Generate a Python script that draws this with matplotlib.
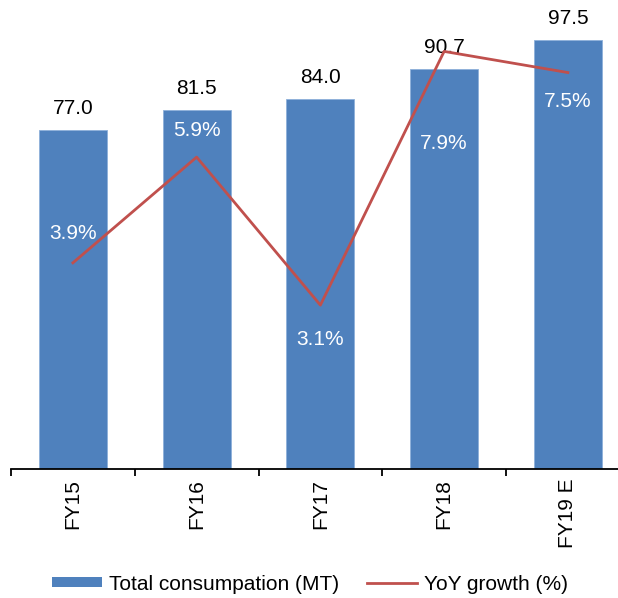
import matplotlib
matplotlib.use("Agg")
import matplotlib.pyplot as plt
from matplotlib.patches import Patch
from matplotlib.lines import Line2D
import numpy as np

plt.rcParams['font.family'] = ['Liberation Sans', 'DejaVu Sans']

# Data
categories = ["FY15", "FY16", "FY17", "FY18", "FY19 E"]
consumption = [77.0, 81.5, 84.0, 90.7, 97.5]      # Total consumption (MT)
yoy_growth = [3.9, 5.9, 3.1, 7.9, 7.5]            # YoY growth (%)

# Vertical offset (points) of each growth label from its line point
growth_label_offsets = [-21, -19, 25, 66, 21]

BAR_COLOR = "#4F81BD"
LINE_COLOR = "#C0504D"
FS = 15

fig = plt.figure(figsize=(6.18, 5.98), dpi=100)
ax = fig.add_axes([11 / 618, 1 - 469 / 598, 618.75 / 618, 528.6 / 598])
ax2 = ax.twinx()

x = np.arange(len(categories))
bars = ax.bar(x, consumption, width=0.55, color=BAR_COLOR,
              edgecolor="#8DB0DA", linewidth=0.6, zorder=2)
ax.set_xlim(-0.5, len(categories) - 0.5)
ax.set_ylim(0, 120)
ax2.set_ylim(0, 10)

ax2.plot(x, yoy_growth, color=LINE_COLOR, linewidth=2.0, zorder=3)

# Bar value labels
for xi, v in zip(x, consumption):
    ax.annotate(f"{v:.1f}", (xi, v), xytext=(0, 11.5), textcoords="offset points",
                ha="center", va="baseline", fontsize=FS, color="black",
                annotation_clip=False)

# Growth labels inside the bars
for xi, g, off in zip(x, yoy_growth, growth_label_offsets):
    ax2.annotate(f"{g:.1f}%", (xi, g), xytext=(0, -off), textcoords="offset points",
                 ha="center", va="center", fontsize=FS, color="white",
                 annotation_clip=False, zorder=4)

# Axes styling
for a in (ax, ax2):
    for s in ("top", "right", "left"):
        a.spines[s].set_visible(False)
    a.set_yticks([])
ax2.spines["bottom"].set_visible(False)
ax.spines["bottom"].set_linewidth(1.3)
ax.spines["bottom"].set_color("black")

# Category ticks sit between the bars; labels are centered under the bars
ax.set_xticks(np.arange(-0.5, len(categories)), minor=False)
ax.set_xticklabels([])
ax.tick_params(axis="x", which="major", direction="out", length=5, width=1.3)
ax.set_xticks(x, minor=True)
ax.set_xticklabels(categories, minor=True, rotation=90, fontsize=FS, va="top")
ax.tick_params(axis="x", which="minor", length=0, pad=7)

handles = [Patch(facecolor=BAR_COLOR, edgecolor="none"),
           Line2D([0], [0], color=LINE_COLOR, linewidth=2.0)]
fig.legend(handles, ["Total consumpation (MT)", "YoY growth (%)"],
           loc="center", bbox_to_anchor=(310 / 618, 1 - 584 / 598),
           ncol=2, frameon=False, fontsize=FS, handlelength=2.4,
           handleheight=0.4, handletextpad=0.35, columnspacing=1.3)

fig.savefig("out.png", dpi=100)
